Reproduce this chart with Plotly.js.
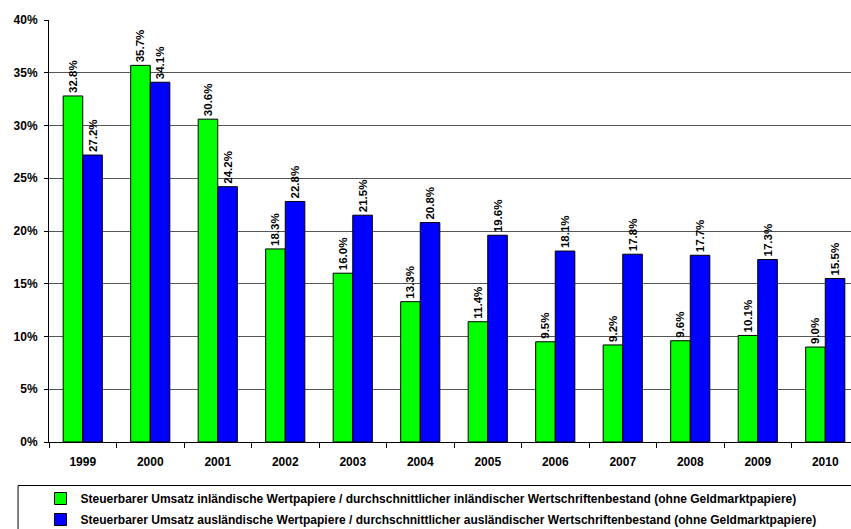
<!DOCTYPE html>
<html>
<head>
<meta charset="utf-8">
<script src="https://cdn.plot.ly/plotly-3.0.1.min.js"></script>
<style>
html, body { margin: 0; padding: 0; overflow: hidden; background: #fff; }
#chart { width: 900px; height: 560px; }
</style>
</head>
<body>
<div id="chart"></div>
<script>
const years = ['1999','2000','2001','2002','2003','2004','2005','2006','2007','2008','2009','2010'];
const inlandValues = [32.8, 35.7, 30.6, 18.3, 16.0, 13.3, 11.4, 9.5, 9.2, 9.6, 10.1, 9.0];
const auslandValues = [27.2, 34.1, 24.2, 22.8, 21.5, 20.8, 19.6, 18.1, 17.8, 17.7, 17.3, 15.5];
const inlandName = 'Steuerbarer Umsatz inländische Wertpapiere / durchschnittlicher inländischer Wertschriftenbestand (ohne Geldmarktpapiere)';
const auslandName = 'Steuerbarer Umsatz ausländische Wertpapiere / durchschnittlicher ausländischer Wertschriftenbestand (ohne Geldmarktpapiere)';
const yTickVals = [0, 5, 10, 15, 20, 25, 30, 35, 40];
const yTickText = ['0%', '5%', '10%', '15%', '20%', '25%', '30%', '35%', '40%'];

const FONT = 'Liberation Sans, Arial, sans-serif';
const labelFont = {family: FONT, size: 11.5, color: '#000', weight: 'bold'};

const traces = [
  {
    type: 'bar', x: years, y: inlandValues, name: inlandName, legendgroup: 'a',
    marker: {color: '#00ff00', line: {color: '#000', width: 1}},
    texttemplate: '%{y:.1f}%', textposition: 'outside', textangle: -90,
    textfont: labelFont, constraintext: 'none', cliponaxis: false, hoverinfo: 'none'
  },
  {
    type: 'bar', x: years, y: auslandValues, name: auslandName, legendgroup: 'b',
    marker: {color: '#0000ff', line: {color: '#000', width: 1}},
    texttemplate: '%{y:.1f}%', textposition: 'outside', textangle: -90,
    textfont: labelFont, constraintext: 'none', cliponaxis: false, hoverinfo: 'none'
  }
];

const W = 900, H = 560;
const mL = 48.5, mT = 20, plotW = 811, plotH = 422;
const px2x = p => (p - mL) / plotW;
const px2y = p => (mT + plotH - p) / plotH;

const layout = {
  width: W, height: H,
  margin: {l: mL, r: W - mL - plotW, t: mT, b: H - mT - plotH, pad: 0},
  paper_bgcolor: '#fff', plot_bgcolor: '#fff',
  font: {family: FONT, size: 12, color: '#000', weight: 'bold'},
  barmode: 'group', bargap: 0.42, bargroupgap: 0,
  showlegend: true,
  legend: {
    x: px2x(40), xanchor: 'left', y: px2y(484), yanchor: 'top',
    bgcolor: 'rgba(0,0,0,0)', borderwidth: 0,
    font: {family: FONT, size: 12, color: '#000', weight: 'bold'},
    traceorder: 'grouped', tracegroupgap: 2, itemwidth: 30
  },
  xaxis: {
    type: 'category', showline: true, linecolor: '#000', linewidth: 1,
    ticks: 'outside', tickson: 'boundaries', ticklen: 5, tickcolor: '#000',
    showgrid: false, zeroline: false, ticklabelstandoff: 9,
    tickfont: {family: FONT, size: 12, color: '#000', weight: 'bold'}
  },
  yaxis: {
    range: [0, 40], tickmode: 'array', tickvals: yTickVals, ticktext: yTickText,
    showline: true, linecolor: '#000', linewidth: 1,
    ticks: 'outside', ticklen: 4, tickcolor: '#000', ticklabelstandoff: 4,
    showgrid: true, gridcolor: '#555', gridwidth: 1, zeroline: false,
    tickfont: {family: FONT, size: 12, color: '#000', weight: 'bold'}
  },
  shapes: [{
    type: 'rect', xref: 'paper', yref: 'paper',
    x0: px2x(17.5), x1: px2x(895), y0: px2y(485.5), y1: px2y(600),
    line: {color: '#000', width: 1}, fillcolor: 'rgba(0,0,0,0)', layer: 'below'
  }]
};

Plotly.newPlot('chart', traces, layout, {staticPlot: true, displayModeBar: false});
</script>
</body>
</html>
